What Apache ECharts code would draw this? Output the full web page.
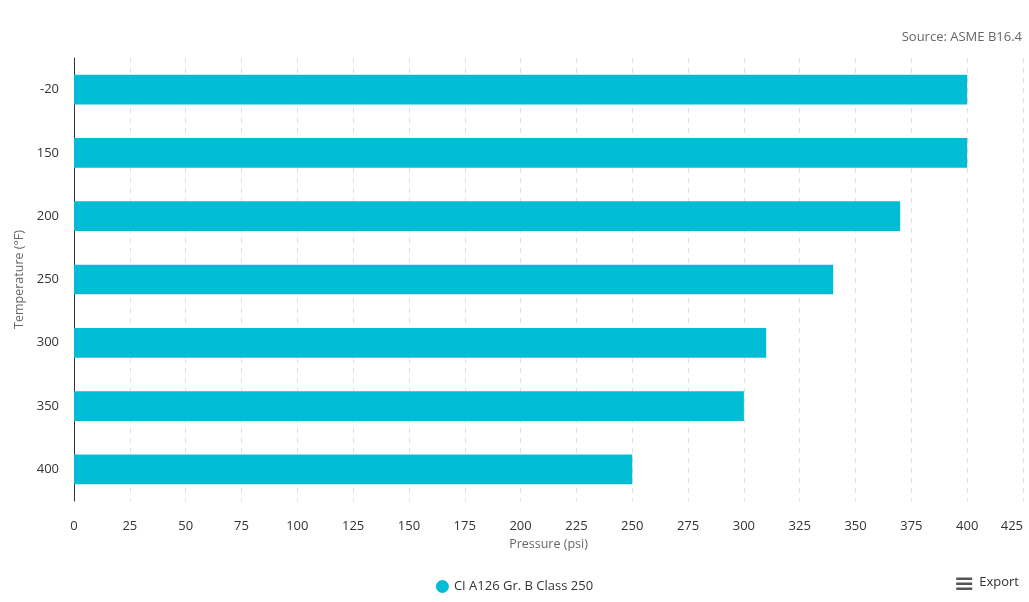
<!DOCTYPE html>
<html>
<head>
<meta charset="utf-8">
<script src="https://cdn.jsdelivr.net/npm/echarts@6/dist/echarts.min.js"></script>
<style>
html,body{margin:0;padding:0;background:#fff;}
#chart{width:1029px;height:602px;}
</style>
</head>
<body>
<div id="chart"></div>
<script>
const categories = ['-20', '150', '200', '250', '300', '350', '400'];
const seriesName = 'CI A126 Gr. B Class 250';
const values = [400, 400, 370, 340, 310, 300, 250];
const xTicks = { min: 0, max: 425, interval: 25 };

const FONT = '"Open Sans", "Noto Sans", sans-serif';
const chart = echarts.init(document.getElementById('chart'));
chart.setOption({
  animation: false,
  textStyle: { fontFamily: FONT },
  title: {
    text: 'Source: ASME B16.4',
    right: 2, top: 26,
    textStyle: { fontSize: 13, fontWeight: 'normal', color: '#666', fontFamily: FONT }
  },
  grid: { left: 74, right: 6, top: 58, bottom: 101, containLabel: false, outerBoundsMode: 'none' },
  legend: {
    bottom: 4, left: 'center',
    icon: 'circle', itemWidth: 13, itemHeight: 13, itemGap: 6,
    textStyle: { fontSize: 13, color: '#333', fontFamily: FONT },
    data: [seriesName]
  },
  xAxis: {
    type: 'value', min: xTicks.min, max: xTicks.max, interval: xTicks.interval,
    name: 'Pressure (psi)', nameLocation: 'middle', nameGap: 31,
    nameTextStyle: { fontSize: 12.5, color: '#666' },
    axisLine: { show: false }, axisTick: { show: false },
    axisLabel: { fontSize: 13, color: '#333', margin: 19, alignMaxLabel: 'right' },
    splitLine: { show: true, lineStyle: { color: '#e0e0e0', type: [5, 5], width: 1 } }
  },
  yAxis: {
    type: 'category', data: categories, inverse: true,
    name: 'Temperature (°F)', nameLocation: 'middle', nameGap: 45,
    nameTextStyle: { fontSize: 12.5, color: '#666' },
    axisLine: { show: true, lineStyle: { color: '#333', width: 1 } },
    axisTick: { show: false },
    axisLabel: { fontSize: 13, color: '#333', margin: 15 },
    splitLine: { show: false }
  },
  series: [{
    name: seriesName, type: 'bar', data: values,
    itemStyle: { color: '#00BCD4' },
    barCategoryGap: '53%'
  }],
  graphic: [{
    type: 'group', right: 10, bottom: 12,
    children: [
      { type: 'rect', shape: { x: 0, y: 0, width: 16, height: 2.5 }, style: { fill: '#555' } },
      { type: 'rect', shape: { x: 0, y: 5, width: 16, height: 2.5 }, style: { fill: '#555' } },
      { type: 'rect', shape: { x: 0, y: 10, width: 16, height: 2.5 }, style: { fill: '#555' } },
      { type: 'text', x: 23, y: -2, style: { text: 'Export', fontSize: 13, fill: '#333', fontFamily: FONT } }
    ]
  }]
});
</script>
</body>
</html>
